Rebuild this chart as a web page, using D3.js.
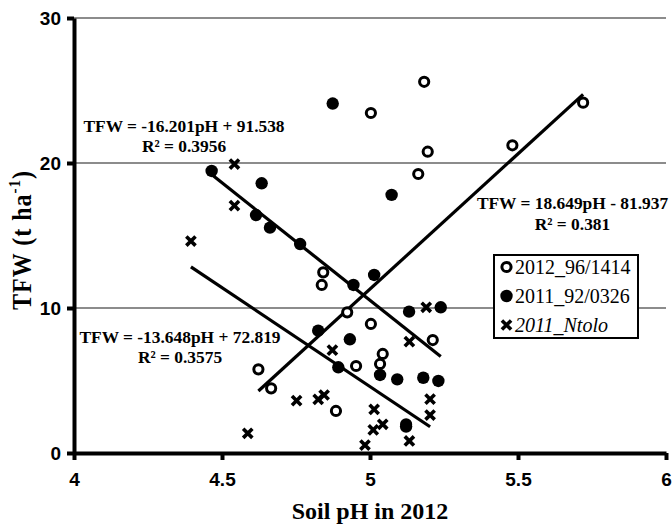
<!DOCTYPE html>
<html>
<head>
<meta charset="utf-8">
<script src="https://cdn.jsdelivr.net/npm/d3@7"></script>
<style>
  html, body { margin: 0; padding: 0; background: #fff; }
  svg { display: block; }
</style>
</head>
<body>
<svg id="chart" width="672" height="525"></svg>
<script>
// ---------- DATA ----------
const seriesNames = ["2012_96/1414", "2011_92/0326", "2011_Ntolo"];

const s1x = [4.623, 4.666, 4.837, 4.842, 4.885, 4.923, 4.953, 5.003, 5.003, 5.034, 5.043, 5.122, 5.163, 5.183, 5.195, 5.212, 5.481, 5.720];
const s1y = [5.77, 4.46, 11.59, 12.46, 2.90, 9.70, 6.00, 8.90, 23.45, 6.14, 6.83, 1.98, 19.24, 25.60, 20.78, 7.79, 21.22, 24.16];

const s2x = [4.465, 4.615, 4.634, 4.662, 4.764, 4.825, 4.874, 4.893, 4.932, 4.944, 5.014, 5.034, 5.073, 5.092, 5.122, 5.132, 5.180, 5.231, 5.239];
const s2y = [19.45, 16.41, 18.60, 15.54, 14.41, 8.44, 24.10, 5.91, 7.84, 11.59, 12.28, 5.38, 17.80, 5.08, 1.82, 9.75, 5.19, 4.97, 10.05];

const s3x = [4.395, 4.542, 4.542, 4.587, 4.752, 4.825, 4.845, 4.873, 4.983, 5.011, 5.014, 5.043, 5.133, 5.133, 5.190, 5.203, 5.203];
const s3y = [14.62, 19.93, 17.06, 1.36, 3.61, 3.70, 4.00, 7.10, 0.55, 1.59, 3.01, 1.98, 0.83, 7.68, 10.05, 3.72, 2.62];

// regression (slope, intercept) and labels for each series
const trendSlope = [18.649, -16.201, -13.648];
const trendIntercept = [-81.937, 91.538, 72.819];
const trendEq = ["TFW = 18.649pH - 81.937", "TFW = -16.201pH + 91.538", "TFW = -13.648pH + 72.819"];
const trendR2 = ["R² = 0.381", "R² = 0.3956", "R² = 0.3575"];

const xTicks = [4, 4.5, 5, 5.5, 6];
const xTickLabels = ["4", "4.5", "5", "5.5", "6"];
const yTicks = [0, 10, 20, 30];
const yTickLabels = ["0", "10", "20", "30"];
const xTitle = "Soil pH in 2012";

// ---------- CHART ----------
const svg = d3.select("#chart");
const x = d3.scaleLinear().domain([4, 6]).range([74, 666]);
const y = d3.scaleLinear().domain([0, 30]).range([453, 18]);

const series = [
  { name: seriesNames[0], xs: s1x, ys: s1y, type: "open" },
  { name: seriesNames[1], xs: s2x, ys: s2y, type: "filled" },
  { name: seriesNames[2], xs: s3x, ys: s3y, type: "cross" }
];

// gridlines
svg.append("g").selectAll("line")
  .data(yTicks.filter(v => v > 0))
  .join("line")
  .attr("x1", x(4)).attr("x2", x(6))
  .attr("y1", d => y(d)).attr("y2", d => y(d))
  .attr("stroke", "#8c8c8c").attr("stroke-width", 2);

// axes
const tickFont = "'Liberation Sans', Arial, sans-serif";
const yAxis = svg.append("g").attr("transform", `translate(${x(4)},0)`)
  .call(d3.axisLeft(y).tickValues(yTicks).tickSize(7).tickSizeOuter(0)
    .tickFormat((d, i) => yTickLabels[i]));
const xAxis = svg.append("g").attr("transform", `translate(0,${y(0)})`)
  .call(d3.axisBottom(x).tickValues(xTicks).tickSize(7).tickSizeOuter(0)
    .tickFormat((d, i) => xTickLabels[i]));

[xAxis, yAxis].forEach(g => {
  g.select(".domain").attr("stroke", "#000").attr("stroke-width", 4);
  g.selectAll(".tick line").attr("stroke", "#000").attr("stroke-width", 4);
  g.selectAll(".tick text").attr("fill", "#000")
    .style("font-family", tickFont).style("font-weight", "bold").style("font-size", "19px");
});
yAxis.selectAll(".tick text").attr("x", -13);
xAxis.selectAll(".tick text").attr("y", 20);

// trendlines
series.forEach((s, i) => {
  const [x0, x1] = d3.extent(s.xs);
  svg.append("line")
    .attr("x1", x(x0)).attr("y1", y(trendSlope[i] * x0 + trendIntercept[i]))
    .attr("x2", x(x1)).attr("y2", y(trendSlope[i] * x1 + trendIntercept[i]))
    .attr("stroke", "#000").attr("stroke-width", 3.2);
});

// markers
function drawMarker(g, type, cx, cy) {
  if (type === "open") {
    g.append("circle").attr("cx", cx).attr("cy", cy).attr("r", 4.6)
      .attr("fill", "#fff").attr("stroke", "#000").attr("stroke-width", 3);
  } else if (type === "filled") {
    g.append("circle").attr("cx", cx).attr("cy", cy).attr("r", 6.2).attr("fill", "#000");
  } else {
    const k = 4.6;
    g.append("path")
      .attr("d", `M${cx - k},${cy - k}L${cx + k},${cy + k}M${cx - k},${cy + k}L${cx + k},${cy - k}`)
      .attr("stroke", "#000").attr("stroke-width", 3.6).attr("fill", "none");
  }
}
series.forEach(s => {
  const g = svg.append("g");
  s.xs.forEach((xv, j) => drawMarker(g, s.type, x(xv), y(s.ys[j])));
});

// equations
const eqFont = "'Liberation Serif', 'Times New Roman', serif";
const eqPos = [
  { cx: 572.5, y1: 209, y2: 230 },
  { cx: 184, y1: 131.5, y2: 151.5 },
  { cx: 180, y1: 343, y2: 363 }
];
eqPos.forEach((p, i) => {
  const t = svg.append("g").style("font-family", eqFont).style("font-weight", "bold")
    .style("font-size", "17.4px").attr("text-anchor", "middle");
  t.append("text").attr("x", p.cx).attr("y", p.y1).text(trendEq[i]);
  t.append("text").attr("x", p.cx).attr("y", p.y2).text(trendR2[i]);
});

// legend
const lg = svg.append("g");
lg.append("rect").attr("x", 494).attr("y", 255).attr("width", 144).attr("height", 83)
  .attr("fill", "#fff").attr("stroke", "#000").attr("stroke-width", 2);
series.forEach((s, i) => {
  const cy = 267 + i * 29;
  drawMarker(lg, s.type, 506.5, cy);
  lg.append("text").attr("x", 515).attr("y", cy + 7)
    .style("font-family", eqFont).style("font-size", "20px")
    .style("font-style", i === 2 ? "italic" : "normal")
    .text(s.name);
});

// axis titles
svg.append("text").attr("x", (x(4) + x(6)) / 2).attr("y", 519)
  .attr("text-anchor", "middle")
  .style("font-family", eqFont).style("font-weight", "bold").style("font-size", "24px")
  .text(xTitle);

const yt = svg.append("text")
  .attr("transform", "translate(30.5,240) rotate(-90) scale(1,1.15)")
  .attr("text-anchor", "middle")
  .style("font-family", eqFont).style("font-weight", "bold").style("font-size", "24px")
  .style("letter-spacing", "1px");
yt.append("tspan").text("TFW  (t ha");
yt.append("tspan").attr("dy", -9).style("font-size", "15px").text("-1");
yt.append("tspan").attr("dy", 9).text(")");
</script>
</body>
</html>
